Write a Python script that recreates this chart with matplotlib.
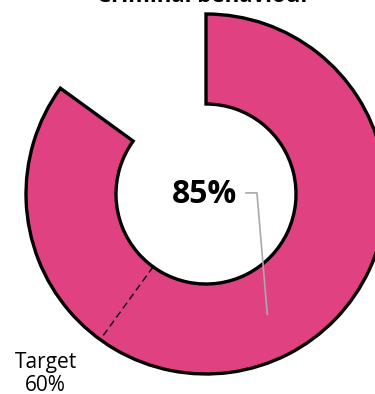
import numpy as np
import matplotlib.pyplot as plt

plt.rcParams['font.family'] = ['Open Sans', 'DejaVu Sans']

title = "Criminal behaviour"
actual = 85
target = 60
bar_color = "#E04180"

fig = plt.figure(figsize=(3.75, 3.94), dpi=100)
ax = fig.add_axes([0, 0, 1, 1])

# donut: filled share plus an invisible remainder
wedges, _ = ax.pie([actual, 100 - actual], startangle=90, counterclock=False,
                   radius=1.0, colors=[bar_color, "none"],
                   wedgeprops=dict(width=0.5, edgecolor="black", linewidth=2.4))
wedges[1].set_edgecolor("none")

# target tick across the ring
t = np.deg2rad(90 - target / 100 * 360)
ax.plot([0.5 * np.cos(t), 1.0 * np.cos(t)], [0.5 * np.sin(t), 1.0 * np.sin(t)],
        color="black", lw=1.0, ls=(0, (5, 3)))
ax.text(-0.89, -0.88, f"Target\n{target}%", ha="center", va="top",
        fontsize=15, linespacing=1.1)

# centre value with leader line to the middle of the arc
ax.text(-0.01, -0.005, f"{actual}%", ha="center", va="center",
        fontsize=23, fontweight="bold")
m = np.deg2rad(90 - actual / 2 / 100 * 360)
ax.plot([0.222, 0.283, 0.75 * np.cos(m)], [0.006, 0.006, 0.75 * np.sin(m)],
        color="#aaaaaa", lw=1.2)

ax.set_aspect("equal")
ax.set_xlim(-206 / 180, 169 / 180)
ax.set_ylim(-200 / 180, 194 / 180)
ax.axis("off")

fig.text(204 / 375, 1 - 2 / 394, title, ha="center", va="baseline",
         fontsize=16, fontweight="bold")

fig.savefig("out.png", dpi=100)
